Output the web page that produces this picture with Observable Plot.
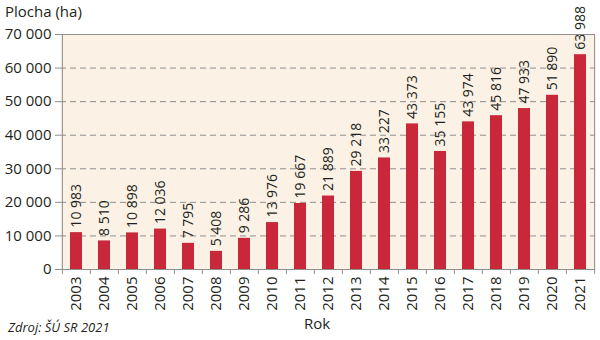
<!DOCTYPE html>
<html>
<head>
<meta charset="utf-8">
<script src="https://cdn.jsdelivr.net/npm/d3@7"></script>
<script src="https://cdn.jsdelivr.net/npm/@observablehq/plot@0.6"></script>
<style>
  body { margin: 0; background: #fff; }
  #wrap { position: relative; width: 600px; height: 340px; font-family: "Open Sans", sans-serif; color: #231f20; }
  #wrap svg { position: absolute; left: 0; top: 0; overflow: visible; }
  .lbl { position: absolute; font-size: 15px; white-space: nowrap; line-height: 1; }
</style>
</head>
<body>
<div id="wrap">
  <div class="lbl" style="left:5px; top:4px;">Plocha (ha)</div>
  <div class="lbl" id="xlab" style="left:304px; top:316px;"></div>
  <div class="lbl" style="left:8px; top:321px; font-style:italic; font-size:13px;">Zdroj: ŠÚ SR 2021</div>
</div>
<script>
const years = ["2003","2004","2005","2006","2007","2008","2009","2010","2011","2012","2013","2014","2015","2016","2017","2018","2019","2020","2021"];
const areas = [10983, 8510, 10898, 12036, 7795, 5408, 9286, 13976, 19667, 21889, 29218, 33227, 43373, 35155, 43974, 45816, 47933, 51890, 63988];
const yTicks = [0, 10000, 20000, 30000, 40000, 50000, 60000, 70000];
const xLabel = "Rok";

document.getElementById("xlab").textContent = xLabel;

const data = years.map((y, i) => ({year: y, area: areas[i]}));
const loc = d3.formatLocale({decimal: ",", thousands: "\u00a0", grouping: [3]});
const fmt = loc.format(",d");

const W = 600, ML = 60, MR = 5;
const step = (W - ML - MR) / years.length;

const chart = Plot.plot({
  width: 600,
  height: 340,
  marginLeft: ML,
  marginRight: MR,
  marginTop: 34,
  marginBottom: 71,
  style: {fontFamily: "Open Sans, sans-serif", fontSize: "14px", color: "#231f20", background: "transparent"},
  x: {domain: years, paddingInner: 0.58, paddingOuter: 0.29, label: null},
  y: {domain: [0, 70000], label: null},
  marks: [
    Plot.frame({fill: "#fbf1e5", stroke: "none"}),
    Plot.gridY(yTicks.filter(d => d > 0 && d < 70000), {stroke: "#8f8f8f", strokeOpacity: 1, strokeDasharray: "6,4", strokeWidth: 1}),
    Plot.barY(data, {x: "year", y: "area", fill: "#c8283a"}),
    Plot.text(data, {x: "year", y: "area", text: d => fmt(d.area), rotate: -90, textAnchor: "start", dy: -5, fontSize: 14, fill: "#231f20"}),
    Plot.ruleY([70000], {stroke: "#8f8f8f"}),
    Plot.ruleY([0], {stroke: "#8f8f8f"}),
    Plot.ruleX([years[0]], {stroke: "#8f8f8f", dx: -step / 2}),
    Plot.ruleX([years[years.length - 1]], {stroke: "#8f8f8f", dx: step / 2}),
    Plot.ruleX(years, {x: d => d, y1: 0, y2: 0, insetBottom: -5, stroke: "#8f8f8f", dx: -step / 2}),
    Plot.ruleX([years[years.length - 1]], {y1: 0, y2: 0, insetBottom: -5, stroke: "#8f8f8f", dx: step / 2}),
    Plot.axisY({ticks: yTicks, tickFormat: fmt, tickSize: 5, tickPadding: 4, stroke: "#8f8f8f", fontSize: 15, color: "#231f20", label: null}),
    Plot.axisX({tickSize: 0, tickPadding: 7, tickRotate: -90, fontSize: 15, label: null})
  ]
});
document.getElementById("wrap").appendChild(chart);
</script>
</body>
</html>
